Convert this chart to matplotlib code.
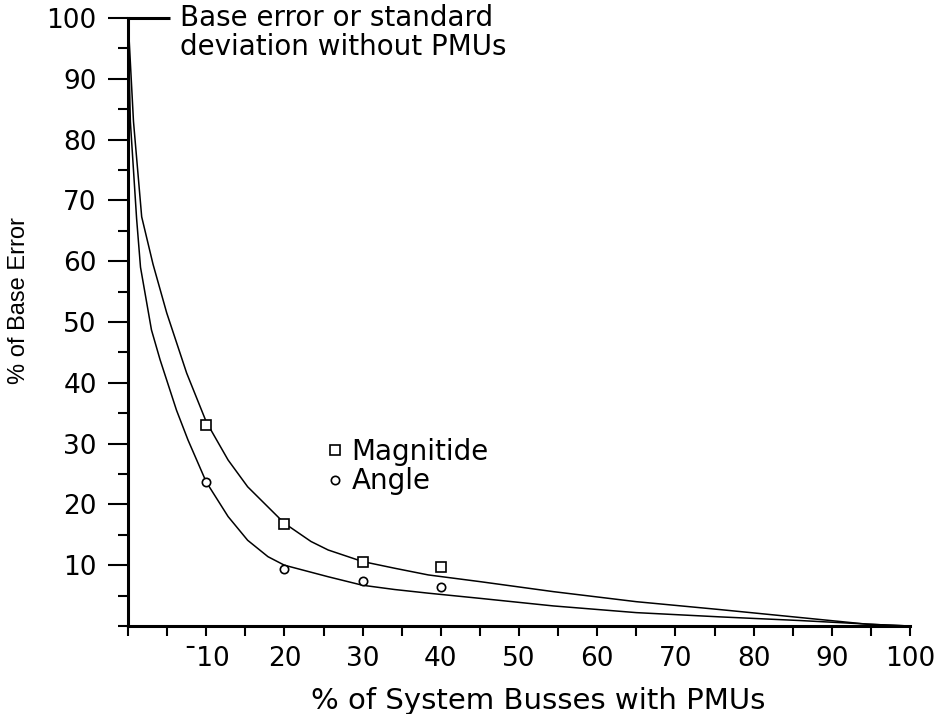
import matplotlib
matplotlib.use("Agg")
import matplotlib.pyplot as plt
from matplotlib.ticker import MultipleLocator, FixedLocator

plt.rcParams['font.family'] = ['DejaVu Sans']

# measured points (% of busses with PMUs -> % of base error)
pmu_pct = [10, 20, 30, 40]
magnitude_pts = [33.1, 16.8, 10.5, 9.75]
angle_pts = [23.7, 9.4, 7.4, 6.4]

# fitted curves
mag_fit_x = [0, 0.7, 1.75, 3.2, 4.95, 7.5, 10, 12.8, 15.3, 20, 23.4, 25.6, 30,
             34.1, 38.4, 45, 54.4, 65, 75.7, 85.9, 94.5, 100]
mag_fit_y = [100, 83, 67.3, 59.5, 51.5, 41.6, 33.6, 27.3, 22.9, 16.9, 13.9, 12.5, 10.6,
             9.5, 8.4, 7.3, 5.65, 4.0, 2.7, 1.4, 0.3, 0]
ang_fit_x = [0, 0.3, 1.1, 1.6, 3.0, 4.1, 6.2, 7.67, 10, 12.8, 15.3, 17.9, 20, 25.6,
             30, 34.1, 38.4, 45, 54.4, 65, 75.7, 85.9, 97, 100]
ang_fit_y = [100, 83, 67, 59, 48.7, 43.8, 35.5, 30.6, 23.7, 18.0, 14.1, 11.4, 10.0, 8.1,
             6.7, 6.0, 5.4, 4.55, 3.3, 2.2, 1.5, 0.9, 0.15, 0]

x_ticks = [10, 20, 30, 40, 50, 60, 70, 80, 90, 100]
x_labels = ['\u00af10', '20', '30', '40', '50', '60', '70', '80', '90', '100']
y_ticks = [10, 20, 30, 40, 50, 60, 70, 80, 90, 100]

fig = plt.figure(figsize=(9.53, 7.14), dpi=100)
ax = fig.add_axes([128 / 953, 88 / 714, 782 / 953, 608 / 714])

ax.plot(mag_fit_x, mag_fit_y, color='black', lw=1.1, clip_on=False)
ax.plot(ang_fit_x, ang_fit_y, color='black', lw=1.1, clip_on=False)
ax.plot(pmu_pct, magnitude_pts, ls='none', marker='s', ms=7.5, mfc='white',
        mec='black', mew=1.2, label='Magnitide')
ax.plot(pmu_pct, angle_pts, ls='none', marker='o', ms=6, mfc='white',
        mec='black', mew=1.2, label='Angle')

ax.set_xlim(0, 100)
ax.set_ylim(0, 100)
for side in ['top', 'right']:
    ax.spines[side].set_visible(False)
for side in ['left', 'bottom']:
    ax.spines[side].set_linewidth(2.2)

ax.xaxis.set_major_locator(FixedLocator(x_ticks))
ax.set_xticklabels(x_labels)
ax.xaxis.set_minor_locator(MultipleLocator(5))
ax.yaxis.set_major_locator(FixedLocator(y_ticks))
ax.yaxis.set_minor_locator(MultipleLocator(5))

ax.tick_params(axis='x', which='both', direction='out', length=7.5, width=1.5,
               pad=7, labelsize=19)
ax.tick_params(axis='y', which='major', direction='out', length=14.5, width=1.5,
               pad=8, labelsize=19)
ax.tick_params(axis='y', which='minor', direction='out', length=7.5, width=1.5)

ax.set_xlabel('% of System Busses with PMUs', fontsize=21)
ax.xaxis.set_label_coords(0.524, -0.1)
ax.set_ylabel('% of Base Error', fontsize=17, family='Liberation Sans')
ax.yaxis.set_label_coords(-0.125, 0.535)

ax.text(6.65, 102.3, 'Base error or standard\ndeviation without PMUs',
        ha='left', va='top', fontsize=20, linespacing=1.05)
ax.plot([0, 5.4], [100, 100], color='black', lw=2.2, clip_on=False,
        solid_capstyle='butt')

ax.legend(loc='center left', bbox_to_anchor=(0.236, 0.262), frameon=False,
          fontsize=20, handlelength=0.6, handletextpad=0.3,
          labelspacing=0.05, borderpad=0)

fig.savefig('out.png', dpi=100)
